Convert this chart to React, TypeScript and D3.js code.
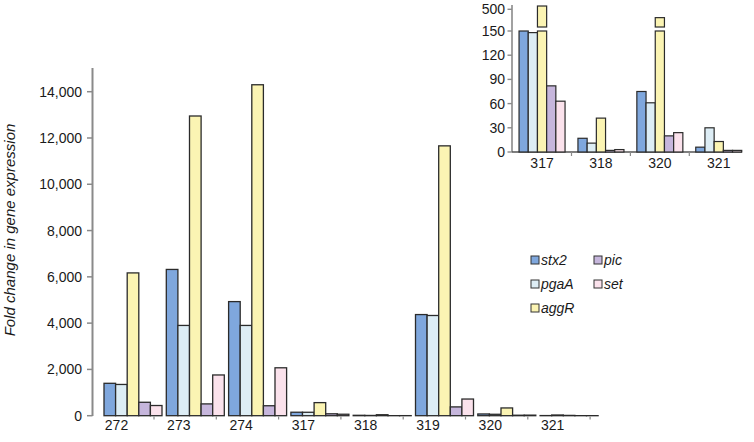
import React from "react";
import * as d3 from "d3";

const categories = ["272", "273", "274", "317", "318", "319", "320", "321"];
const seriesKeys = ["stx2", "pgaA", "aggR", "pic", "set"];
const stx2 = [1400, 6320, 4930, 150, 17, 4370, 75, 6];
const pgaA = [1350, 3900, 3900, 148, 11, 4330, 61, 30];
const aggR = [6170, 12950, 14300, 565, 42, 11660, 335, 13];
const pic = [580, 510, 430, 82, 2, 380, 20, 2];
const set = [440, 1760, 2070, 63, 3, 720, 24, 2];
const mainTicks = [0, 2000, 4000, 6000, 8000, 10000, 12000, 14000];
const insetCategories = ["317", "318", "320", "321"];
const insetTicks = [0, 30, 60, 90, 120, 150];
const insetBreakTick = 500;
const insetBreak = 150;

const colors: Record<string, string> = {
  stx2: "#7fa7dd",
  pgaA: "#ddedf5",
  aggR: "#fbf4b3",
  pic: "#c6b6dc",
  set: "#fbe2ec",
};
const valuesByKey: Record<string, number[]> = { stx2, pgaA, aggR, pic, set };

const FONT = "'Liberation Sans', Arial, Helvetica, sans-serif";
const STROKE = "#2b2b2b";

export default function App() {
  // main chart scales
  const y = d3.scaleLinear().domain([0, 14000]).range([415.7, 91.7]);
  const x = d3
    .scaleBand<string>()
    .domain(categories)
    .range([104, 598.1])
    .paddingInner(4.3 / 62.3)
    .paddingOuter(0);
  const xs = d3.scaleBand<string>().domain(seriesKeys).range([0, x.bandwidth()]);

  // inset scales
  const iy = d3.scaleLinear().domain([0, insetBreak]).range([152, 31]);
  const iyUp = d3.scaleLinear().domain([insetBreak, insetBreakTick]).range([27, 9.3]);
  const ix = d3.scaleBand<string>().domain(insetCategories).range([512.6, 748.2]);
  const groupW = 46;
  const ixs = d3.scaleBand<string>().domain(seriesKeys).range([0, groupW]);
  const offs = (ix.bandwidth() - groupW) / 2;

  const legendItems = [
    { key: "stx2", x: 531, y: 260 },
    { key: "pgaA", x: 531, y: 284 },
    { key: "aggR", x: 531, y: 308 },
    { key: "pic", x: 594, y: 260 },
    { key: "set", x: 594, y: 284 },
  ];

  return (
    <div style={{ position: "absolute", left: 0, top: 0 }}>
      <svg width={754} height={442} style={{ display: "block", background: "#fff" }} fontFamily={FONT}>
        {/* main y axis */}
        <line x1={92.5} x2={92.5} y1={68} y2={416} stroke="#8a8a8a" strokeWidth={2} />
        {mainTicks.map((t) => (
          <g key={t}>
            <line x1={87} x2={92.5} y1={y(t)} y2={y(t)} stroke="#8a8a8a" strokeWidth={1.5} />
            <text x={82} y={y(t) + 5} textAnchor="end" fontSize={14} fill="#1a1a1a">
              {d3.format(",")(t)}
            </text>
          </g>
        ))}
        <text
          transform="translate(15,230) rotate(-90)"
          textAnchor="middle"
          fontSize={15}
          fontStyle="italic"
          fill="#1a1a1a"
        >
          Fold change in gene expression
        </text>
        {/* main bars */}
        {categories.map((c, i) => (
          <g key={c}>
            {seriesKeys.map((k) => {
              const v = valuesByKey[k][i];
              const top = y(v);
              return (
                <rect
                  key={k}
                  x={(x(c) as number) + (xs(k) as number)}
                  y={top}
                  width={xs.bandwidth()}
                  height={Math.max(0, y(0) - top)}
                  fill={colors[k]}
                  stroke={STROKE}
                  strokeWidth={1.3}
                />
              );
            })}
            <line
              x1={(x(c) as number) + 50}
              x2={(x(c) as number) + 50}
              y1={416.5}
              y2={419.5}
              stroke="#8a8a8a"
              strokeWidth={1.2}
            />
            <text x={(x(c) as number) + 12.5} y={430} textAnchor="middle" fontSize={14} fill="#1a1a1a">
              {c}
            </text>
          </g>
        ))}

        {/* inset */}
        <line x1={512} x2={512} y1={5} y2={152} stroke="#8a8a8a" strokeWidth={1.6} />
        <line x1={512} x2={742} y1={152} y2={152} stroke="#555" strokeWidth={1.6} />
        {[...insetTicks.map((t) => ({ t, yy: iy(t) })), { t: insetBreakTick, yy: iyUp(insetBreakTick) }].map(
          ({ t, yy }) => (
            <g key={t}>
              <line x1={507.5} x2={512} y1={yy} y2={yy} stroke="#8a8a8a" strokeWidth={1.4} />
              <text x={505} y={yy + 5} textAnchor="end" fontSize={14} fill="#1a1a1a">
                {t}
              </text>
            </g>
          )
        )}
        {insetCategories.slice(1).map((c) => (
          <line
            key={c}
            x1={ix(c) as number}
            x2={ix(c) as number}
            y1={152}
            y2={156}
            stroke="#8a8a8a"
            strokeWidth={1.2}
          />
        ))}
        {insetCategories.map((c) => {
          const ci = categories.indexOf(c);
          const gx = (ix(c) as number) + offs;
          return (
            <g key={c}>
              {seriesKeys.map((k) => {
                const v = valuesByKey[k][ci];
                const bx = gx + (ixs(k) as number);
                const bw = ixs.bandwidth();
                const capped = Math.min(v, insetBreak);
                const top = iy(capped);
                return (
                  <g key={k}>
                    <rect
                      x={bx}
                      y={top}
                      width={bw}
                      height={Math.max(0, iy(0) - top)}
                      fill={colors[k]}
                      stroke={STROKE}
                      strokeWidth={1.2}
                    />
                    {v > insetBreak && (
                      <rect
                        x={bx}
                        y={iyUp(v)}
                        width={bw}
                        height={iyUp(insetBreak) - iyUp(v)}
                        fill={colors[k]}
                        stroke={STROKE}
                        strokeWidth={1.2}
                      />
                    )}
                  </g>
                );
              })}
              <text
                x={(ix(c) as number) + ix.bandwidth() / 2}
                y={168}
                textAnchor="middle"
                fontSize={14}
                fill="#1a1a1a"
              >
                {c}
              </text>
            </g>
          );
        })}

        {/* legend */}
        {legendItems.map((it) => (
          <g key={it.key}>
            <rect
              x={it.x}
              y={it.y - 4}
              width={8}
              height={8}
              fill={colors[it.key]}
              stroke="#333"
              strokeWidth={1}
            />
            <text x={it.x + 10} y={it.y + 5} fontSize={14} fontStyle="italic" fill="#1a1a1a">
              {it.key}
            </text>
          </g>
        ))}
      </svg>
    </div>
  );
}
